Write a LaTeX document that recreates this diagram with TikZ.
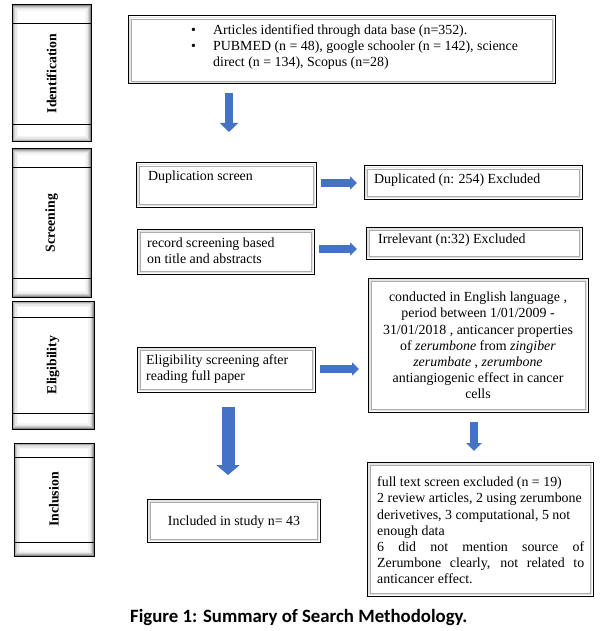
\documentclass[tikz,border=0pt]{standalone}
\usepackage{fontspec}
\setmainfont{Liberation Serif}
\newfontfamily\capfont{Carlito}
\usetikzlibrary{arrows.meta,fit}
\definecolor{ablue}{HTML}{4472C4}
\newcommand\dbox[5]{%
 \node[fit={(#2,#3)(#4,#5)}, inner sep=0pt, outer sep=0pt, fill=white] (#1) {};
 \draw[gray!22, line width=1.8pt] ([shift={(1.6pt,-1.6pt)}]#1.north west) rectangle ([shift={(-1.6pt,1.6pt)}]#1.south east);
 \draw[gray!65, line width=0.6pt] ([shift={(3pt,-3pt)}]#1.north west) rectangle ([shift={(-3pt,3pt)}]#1.south east);
 \draw[line width=1pt] (#1.north west) rectangle (#1.south east);
}
\newcommand\stbox[8]{%
 \node[fit={(#2,#3)(#4,#5)}, inner sep=0pt, outer sep=0pt, fill=white] (#1) {};
 \foreach \d/\c in {0.7/45,1.8/30,2.9/18,4/9,5.1/4}{\draw[black!\c, line width=1.2pt] ([shift={(\d pt,-\d pt)}]#1.north west) rectangle ([shift={(-\d pt,\d pt)}]#1.south east);}
 \draw[line width=1pt] (#1.north west) rectangle (#1.south east);
 \draw[line width=0.9pt] (#2,#6) -- (#4,#6);
 \draw[line width=0.9pt] (#2,#7) -- (#4,#7);
 \node[rotate=90, inner sep=0pt, font=\bfseries\fontsize{13.8}{15}\selectfont] (#1-lab) at (#1.center) {#8};
}
\begin{document}
\begin{tikzpicture}[x=1pt,y=-1pt,
  txt/.style={font=\fontsize{13.9}{16.2}\selectfont, inner sep=0pt},
  barrow/.style n args={3}{draw=ablue, line width=#1, -{Triangle[width=#2, length=#3]}}]
\fill[white] (0,0) rectangle (605,631);
\useasboundingbox (0,0) rectangle (605,631);

% stage boxes
\stbox{sid}{12}{5}{91}{142}{23}{124}{Identification}
\stbox{sscr}{12}{149}{91}{297}{167}{278}{Screening}
\stbox{selig}{12}{301}{94}{429}{317}{413}{Eligibility}
\stbox{sinc}{14}{443}{94}{556}{457}{542}{Inclusion}

% content boxes
\dbox{idb}{128}{16}{555}{84}
\dbox{dup}{136}{163}{316}{207}
\dbox{dupx}{364}{166}{582}{199}
\dbox{rec}{137}{229}{314}{274}
\dbox{irr}{366}{227}{582}{259}
\dbox{crit}{368}{278}{588}{412}
\dbox{elig}{137}{347}{315}{392}
\dbox{incl}{147}{499}{320}{542}
\dbox{full}{367}{462}{593}{596}

% texts
\node[txt, anchor=west] (idtxt) at (191,47) {\begin{tabular}{@{}p{22pt}@{}l@{}}\textbullet & Articles identified through data base (n=352).\\ \textbullet & PUBMED (n = 48), google schooler (n = 142), science\\ & direct (n = 134), Scopus (n=28)\end{tabular}};
\node[txt, anchor=west] (duptxt) at (148,177) {Duplication screen};
\node[txt, anchor=west] (dupxtxt) at (374,180) {Duplicated (n: 254) Excluded};
\node[txt, anchor=west, align=left] (rectxt) at (147,251) {record screening based\\on title and abstracts};
\node[txt, anchor=west] (irrtxt) at (378,240) {Irrelevant (n:32) Excluded};
\node[txt, align=center] (crittxt) at (478,345.5) {conducted in English language ,\\period between 1/01/2009 -\\31/01/2018 , anticancer properties\\of \textit{zerumbone} from \textit{zingiber}\\\textit{zerumbate} , \textit{zerumbone}\\antiangiogenic effect in cancer\\cells};
\node[txt, anchor=west, align=left] (eligtxt) at (146,369) {Eligibility screening after\\reading full paper};
\node[txt] (incltxt) at (234,522) {Included in study n= 43};
\node[txt, anchor=west, align=left] (fulltxt) at (377,530.5) {full text screen excluded (n = 19)\\2 review articles, 2 using zerumbone\\derivetives, 3 computational, 5 not\\enough data\\\makebox[207pt][s]{6 did not mention source of}\\\makebox[207pt][s]{Zerumbone clearly, not related to}\\anticancer effect.};

% arrows
\coordinate (a1s) at (229,93);  \coordinate (a1e) at (229,132);
\coordinate (a2s) at (321,183); \coordinate (a2e) at (357,183);
\coordinate (a3s) at (319,249); \coordinate (a3e) at (357,249);
\coordinate (a4s) at (320,369); \coordinate (a4e) at (359,369);
\coordinate (a5s) at (228,407); \coordinate (a5e) at (228,475);
\coordinate (a6s) at (474,422); \coordinate (a6e) at (474,451);
\draw[barrow={8pt}{18pt}{9pt}] (a1s) -- (a1e);
\draw[barrow={8pt}{13pt}{7pt}] (a2s) -- (a2e);
\draw[barrow={8pt}{13pt}{7pt}] (a3s) -- (a3e);
\draw[barrow={8pt}{13pt}{7pt}] (a4s) -- (a4e);
\draw[barrow={13pt}{23pt}{10pt}] (a5s) -- (a5e);
\draw[barrow={8pt}{15pt}{8pt}] (a6s) -- (a6e);

% caption
\node[anchor=base west, inner sep=0pt, font=\capfont\bfseries\fontsize{18.8}{22}\selectfont] (cap) at (130,622) {Figure 1: Summary of Search Methodology.};
\end{tikzpicture}
\end{document}
